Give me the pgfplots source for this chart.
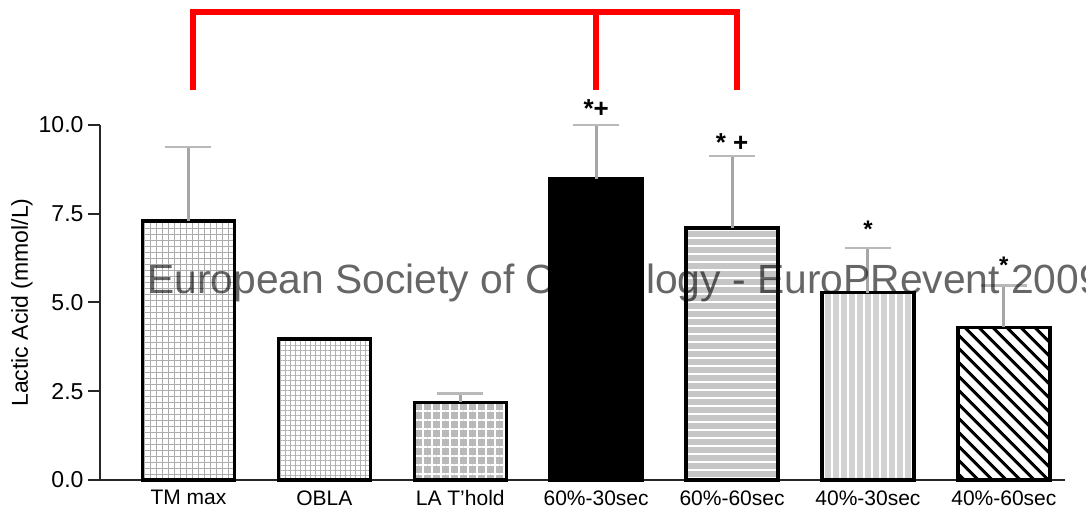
\documentclass[border=0pt]{standalone}
\usepackage{fontspec}
\setmainfont{Liberation Sans}
\usepackage{pgfplots}
\pgfplotsset{compat=1.18}
\usetikzlibrary{patterns.meta}
\begin{document}
\begin{tikzpicture}[x=1pt,y=1pt]
\useasboundingbox (0,0) rectangle (1086,510);
\begin{axis}[
  at={(100pt,30pt)}, anchor=south west,
  scale only axis, width=965pt, height=355pt,
  xmin=-0.651, xmax=6.45, ymin=0, ymax=10,
  axis lines*=left,
  axis line style={-, line width=2.5pt, black!85},
  ybar, bar width=92pt,
  xtick={0,1,2,3,4,5,6},
  xticklabels={TM max, OBLA, LA T'hold, 60\%-30sec, 60\%-60sec, 40\%-30sec, 40\%-60sec},
  x tick style={draw=none},
  ytick={0,2.5,5,7.5,10},
  y tick style={line width=2pt, black!85},
  tick align=outside, major tick length=12pt,
  /pgf/number format/.cd, fixed, fixed zerofill, precision=1, assume math mode=true,
  /pgfplots/.cd,
  yticklabel style={font=\fontsize{23}{24}\selectfont, xshift=-1pt},
  xticklabel style={font=\fontsize{21}{22}\selectfont, yshift=5pt},
  ylabel={Lactic Acid (mmol/L)},
  every axis y label/.style={at={(axis description cs:-0.081,0.5)}, rotate=90, anchor=center, font=\fontsize{23}{24}\selectfont},
  clip=false,
  error bars/y dir=plus, error bars/y explicit,
  error bars/error bar style={draw=gray!70, line width=3pt, solid},
  error bars/error mark options={rotate=90, mark size=23pt, line width=2.5pt, draw=gray!55},
]
% TM max
\addplot[bar shift=0pt, draw=black, line width=3.5pt, preaction={fill=white},
  pattern={Hatch[angle=0,distance=6pt,line width=0.9pt]}, pattern color=gray!65]
  coordinates {(0,7.30) +- (0,2.08)};
% OBLA
\addplot[bar shift=0pt, draw=black, line width=3.5pt, preaction={fill=white},
  pattern={Hatch[angle=0,distance=5pt,line width=0.8pt]}, pattern color=gray!60,
  error bars/y dir=none]
  coordinates {(1,3.97)};
% LA T'hold
\addplot[bar shift=0pt, draw=black, line width=3.5pt, preaction={fill=gray!55},
  pattern={Hatch[angle=0,distance=9pt,line width=1.6pt]}, pattern color=white]
  coordinates {(2,2.19) +- (0,0.25)};
% 60%-30sec
\addplot[bar shift=0pt, draw=black, line width=3.5pt, fill=black]
  coordinates {(3,8.48) +- (0,1.52)};
% 60%-60sec
\addplot[bar shift=0pt, draw=black, line width=3.5pt, preaction={fill=gray!45},
  pattern={Lines[angle=0,distance=8pt,line width=2pt]}, pattern color=white]
  coordinates {(4,7.10) +- (0,2.03)};
% 40%-30sec
\addplot[bar shift=0pt, draw=black, line width=3.5pt, preaction={fill=gray!35},
  pattern={Lines[angle=90,distance=8pt,line width=2.5pt]}, pattern color=white]
  coordinates {(5,5.28) +- (0,1.26)};
% 40%-60sec
\addplot[bar shift=0pt, draw=black, line width=3.5pt, preaction={fill=white},
  pattern={Lines[angle=-45,distance=10.5pt,line width=3.5pt]}, pattern color=black]
  coordinates {(6,4.30) +- (0,1.18)};
% significance marks
\node[font=\fontsize{26}{26}\selectfont\bfseries] at (axis cs:3,10.45) {*+};
\node[font=\fontsize{26}{26}\selectfont\bfseries] at (axis cs:4,9.5) {* +};
\node[font=\fontsize{24}{24}\selectfont\bfseries] at (axis cs:5,7.05) {*};
\node[font=\fontsize{24}{24}\selectfont\bfseries] at (axis cs:6,6.05) {*};
% red bracket
\draw[red, line width=6pt, line cap=butt] (axis cs:0.033,10.99) -- (axis cs:0.033,13.18) -- (axis cs:4.04,13.18) -- (axis cs:4.04,10.99);
\draw[red, line width=6pt] (axis cs:2.999,13.18) -- (axis cs:2.999,10.99);
\end{axis}
\begin{scope}[blend mode=multiply]
\node[anchor=base west, inner sep=0pt, font=\fontsize{40.8}{41}\selectfont, text=black!60] at (147,216) {European Society of Cardiology - EuroPRevent 2009};
\end{scope}
\end{tikzpicture}
\end{document}
